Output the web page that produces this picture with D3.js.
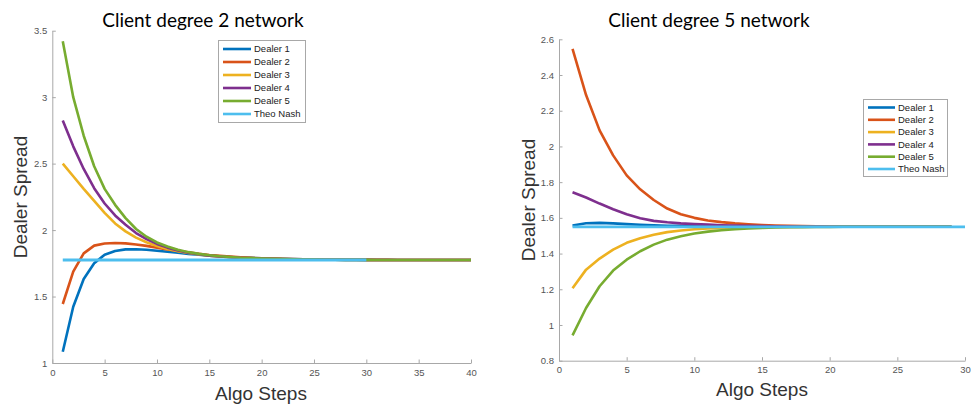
<!DOCTYPE html>
<html>
<head>
<meta charset="utf-8">
<script src="https://d3js.org/d3.v7.min.js"></script>
<style>
  html, body { margin: 0; padding: 0; background: #fff; }
  svg { display: block; }
</style>
</head>
<body>
<svg id="chart" width="971" height="410"></svg>
<script>
// ---------- DATA ----------
const seriesNames = ["Dealer 1", "Dealer 2", "Dealer 3", "Dealer 4", "Dealer 5", "Theo Nash"];
const seriesColors = ["#0072BD", "#D95319", "#EDB120", "#7E2F8E", "#77AC30", "#4DBEEE"];

// Left panel: Client degree 2 network (steps 1..40)
const leftTitle = "Client degree 2 network";
const leftSteps = d3.range(1, 41);
const leftDealer1 = [1.085, 1.423, 1.632, 1.750, 1.815, 1.843, 1.855, 1.856, 1.852, 1.845,
                     1.837, 1.829, 1.821, 1.814, 1.808, 1.803, 1.798, 1.794, 1.791, 1.788,
                     1.786, 1.784, 1.782, 1.781, 1.780, 1.779, 1.778, 1.777, 1.777, 1.776,
                     1.776, 1.776, 1.775, 1.775, 1.775, 1.775, 1.775, 1.775, 1.775, 1.775];
const leftDealer2 = [1.444, 1.687, 1.825, 1.883, 1.899, 1.903, 1.900, 1.892, 1.881, 1.868,
                     1.855, 1.843, 1.832, 1.822, 1.813, 1.806, 1.800, 1.795, 1.791, 1.788,
                     1.786, 1.784, 1.782, 1.781, 1.780, 1.779, 1.778, 1.777, 1.777, 1.776,
                     1.776, 1.776, 1.775, 1.775, 1.775, 1.775, 1.775, 1.775, 1.775, 1.775];
const leftDealer3 = [2.500, 2.405, 2.310, 2.220, 2.130, 2.050, 1.990, 1.943, 1.908, 1.880,
                     1.858, 1.841, 1.828, 1.817, 1.808, 1.801, 1.796, 1.791, 1.788, 1.785,
                     1.783, 1.781, 1.780, 1.779, 1.778, 1.777, 1.777, 1.776, 1.776, 1.776,
                     1.775, 1.775, 1.775, 1.775, 1.775, 1.775, 1.775, 1.775, 1.775, 1.775];
const leftDealer4 = [2.825, 2.630, 2.460, 2.315, 2.200, 2.110, 2.040, 1.978, 1.932, 1.896,
                     1.868, 1.846, 1.830, 1.818, 1.808, 1.801, 1.796, 1.791, 1.788, 1.785,
                     1.783, 1.781, 1.780, 1.779, 1.778, 1.777, 1.777, 1.776, 1.776, 1.776,
                     1.775, 1.775, 1.775, 1.775, 1.775, 1.775, 1.775, 1.775, 1.775, 1.775];
const leftDealer5 = [3.420, 3.000, 2.710, 2.480, 2.310, 2.190, 2.090, 2.008, 1.950, 1.907,
                     1.876, 1.852, 1.834, 1.821, 1.811, 1.803, 1.797, 1.792, 1.789, 1.786,
                     1.784, 1.782, 1.780, 1.779, 1.778, 1.777, 1.777, 1.776, 1.776, 1.776,
                     1.775, 1.775, 1.775, 1.775, 1.775, 1.775, 1.775, 1.775, 1.775, 1.775];
const leftNashSteps = [1, 30];
const leftNash = [1.775, 1.775];
const leftXTicks = [0, 5, 10, 15, 20, 25, 30, 35, 40];
const leftYTicks = [1, 1.5, 2, 2.5, 3, 3.5];

// Right panel: Client degree 5 network (steps 1..29)
const rightTitle = "Client degree 5 network";
const rightSteps = d3.range(1, 30);
const rightDealer1 = [1.557, 1.570, 1.572, 1.569, 1.565, 1.561, 1.558, 1.556, 1.555, 1.554,
                      1.553, 1.553, 1.552, 1.552, 1.551, 1.551, 1.551, 1.551, 1.550, 1.550,
                      1.550, 1.550, 1.550, 1.550, 1.550, 1.550, 1.550, 1.550, 1.550];
const rightDealer2 = [2.546, 2.288, 2.090, 1.950, 1.838, 1.760, 1.700, 1.652, 1.620, 1.600,
                      1.585, 1.576, 1.569, 1.564, 1.560, 1.557, 1.555, 1.554, 1.553, 1.552,
                      1.551, 1.551, 1.550, 1.550, 1.550, 1.550, 1.550, 1.550, 1.550];
const rightDealer3 = [1.206, 1.310, 1.372, 1.422, 1.460, 1.486, 1.505, 1.520, 1.529, 1.536,
                      1.541, 1.544, 1.546, 1.547, 1.548, 1.549, 1.549, 1.550, 1.550, 1.550,
                      1.550, 1.550, 1.550, 1.550, 1.550, 1.550, 1.550, 1.550, 1.550];
const rightDealer4 = [1.743, 1.714, 1.680, 1.648, 1.620, 1.598, 1.583, 1.575, 1.569, 1.565,
                      1.562, 1.559, 1.557, 1.555, 1.554, 1.553, 1.552, 1.551, 1.551, 1.550,
                      1.550, 1.550, 1.550, 1.550, 1.550, 1.550, 1.550, 1.550, 1.550];
const rightDealer5 = [0.942, 1.095, 1.217, 1.305, 1.366, 1.413, 1.450, 1.478, 1.497, 1.512,
                      1.523, 1.531, 1.537, 1.541, 1.544, 1.546, 1.547, 1.548, 1.549, 1.549,
                      1.550, 1.550, 1.550, 1.550, 1.550, 1.550, 1.550, 1.550, 1.550];
const rightNashSteps = [1, 30];
const rightNash = [1.55, 1.55];
const rightXTicks = [0, 5, 10, 15, 20, 25, 30];
const rightYTicks = [0.8, 1, 1.2, 1.4, 1.6, 1.8, 2, 2.2, 2.4, 2.6];

const xLabel = "Algo Steps";
const yLabel = "Dealer Spread";

// ---------- DRAW ----------
const svg = d3.select("#chart");
svg.append("rect").attr("width", 971).attr("height", 410).attr("fill", "#fff");

function panel(cfg) {
  const x = d3.scaleLinear().domain(cfg.xDomain).range(cfg.xRange);
  const y = d3.scaleLinear().domain(cfg.yDomain).range(cfg.yRange);
  const g = svg.append("g");

  // axes
  const ax = g.append("g")
    .attr("transform", `translate(0,${cfg.yRange[0]})`)
    .call(d3.axisBottom(x).tickValues(cfg.xTicks).tickSizeInner(-3.5).tickSizeOuter(0).tickPadding(6)
      .tickFormat(d3.format("~g")));
  const ay = g.append("g")
    .attr("transform", `translate(${cfg.xRange[0]},0)`)
    .call(d3.axisLeft(y).tickValues(cfg.yTicks).tickSizeInner(-3.5).tickSizeOuter(0).tickPadding(5)
      .tickFormat(d3.format("~g")));
  [ax, ay].forEach(a => {
    a.select(".domain").attr("stroke", "#a8a8a8").attr("stroke-width", 1);
    a.selectAll(".tick line").attr("stroke", "#a8a8a8");
    a.selectAll(".tick text").attr("fill", "#555").attr("font-family", "Liberation Sans, Arial, sans-serif")
      .attr("font-size", 9.5);
  });

  // lines
  const line = d3.line().x(d => x(d[0])).y(d => y(d[1]));
  cfg.series.forEach((s, i) => {
    const pts = s.steps.map((st, k) => [st, s.values[k]]);
    g.append("path").datum(pts)
      .attr("d", line)
      .attr("fill", "none")
      .attr("stroke", seriesColors[i])
      .attr("stroke-width", i === 5 ? 2.8 : 2.6)
      .attr("stroke-linejoin", "round");
  });

  // title
  g.append("text").attr("x", cfg.titleX).attr("y", 27).attr("text-anchor", "middle")
    .attr("font-family", "Lato, sans-serif").attr("font-weight", 400).attr("font-size", 19).attr("fill", "#000")
    .text(cfg.title);

  // axis labels
  g.append("text").attr("x", cfg.xLabelPos[0]).attr("y", cfg.xLabelPos[1]).attr("text-anchor", "middle")
    .attr("font-family", "Liberation Sans, Arial, sans-serif").attr("font-size", 19).attr("fill", "#333")
    .text(xLabel);
  g.append("text").attr("transform", `translate(${cfg.yLabelPos[0]},${cfg.yLabelPos[1]}) rotate(-90)`)
    .attr("text-anchor", "middle")
    .attr("font-family", "Liberation Sans, Arial, sans-serif").attr("font-size", 19).attr("fill", "#333")
    .text(yLabel);

  // legend
  const L = cfg.legend;
  const lg = g.append("g");
  lg.append("rect").attr("x", L.x).attr("y", L.y).attr("width", L.w).attr("height", L.h)
    .attr("fill", "#fff").attr("stroke", "#a8a8a8").attr("stroke-width", 1);
  seriesNames.forEach((n, i) => {
    const yy = L.row0 + i * L.dy;
    lg.append("line").attr("x1", L.lx1).attr("x2", L.lx2).attr("y1", yy).attr("y2", yy)
      .attr("stroke", seriesColors[i]).attr("stroke-width", 2.6);
    lg.append("text").attr("x", L.tx).attr("y", yy).attr("dy", "0.35em")
      .attr("font-family", "Liberation Sans, Arial, sans-serif").attr("font-size", 9.5).attr("fill", "#222")
      .text(n);
  });
}

panel({
  xDomain: [0, 40], xRange: [52.3, 471],
  yDomain: [1, 3.5], yRange: [363, 30.7],
  xTicks: leftXTicks, yTicks: leftYTicks,
  title: leftTitle, titleX: 203,
  xLabelPos: [261, 400], yLabelPos: [27, 197],
  series: [
    {steps: leftSteps, values: leftDealer1},
    {steps: leftSteps, values: leftDealer2},
    {steps: leftSteps, values: leftDealer3},
    {steps: leftSteps, values: leftDealer4},
    {steps: leftSteps, values: leftDealer5},
    {steps: leftNashSteps, values: leftNash}
  ],
  legend: {x: 218.5, y: 40.5, w: 87, h: 82, row0: 49, dy: 13, lx1: 223, lx2: 251, tx: 254}
});

panel({
  xDomain: [0, 30], xRange: [559, 965],
  yDomain: [0.8, 2.6], yRange: [360.7, 39.3],
  xTicks: rightXTicks, yTicks: rightYTicks,
  title: rightTitle, titleX: 709,
  xLabelPos: [762, 396], yLabelPos: [535, 200],
  series: [
    {steps: rightSteps, values: rightDealer1},
    {steps: rightSteps, values: rightDealer2},
    {steps: rightSteps, values: rightDealer3},
    {steps: rightSteps, values: rightDealer4},
    {steps: rightSteps, values: rightDealer5},
    {steps: rightNashSteps, values: rightNash}
  ],
  legend: {x: 863.5, y: 99.5, w: 84, h: 77, row0: 107.5, dy: 12.3, lx1: 868, lx2: 895, tx: 898}
});
</script>
</body>
</html>
